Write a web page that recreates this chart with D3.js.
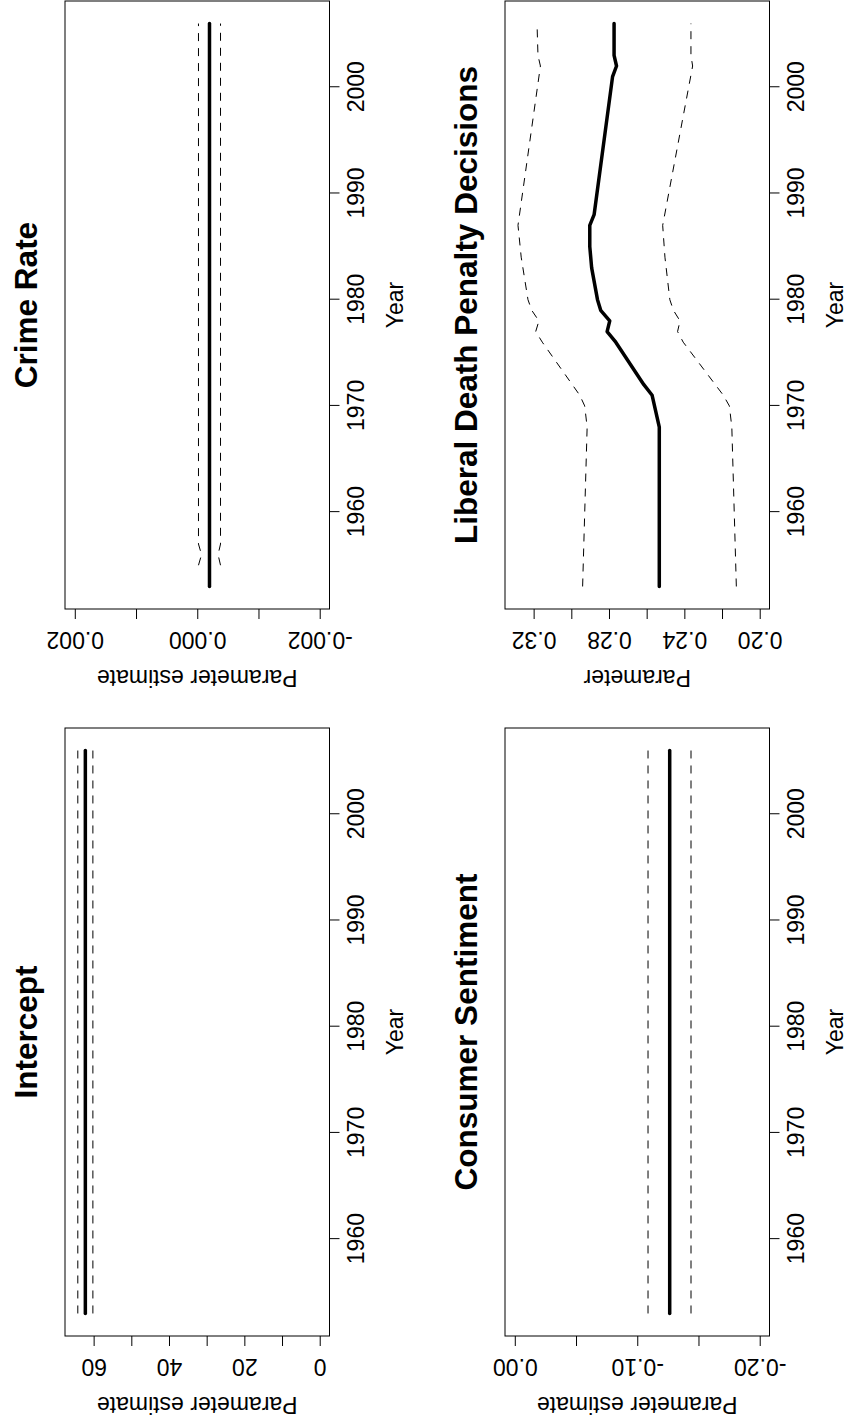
<!DOCTYPE html>
<html>
<head>
<meta charset="utf-8">
<script src="https://cdn.jsdelivr.net/npm/d3@7"></script>
<style>
  body { margin: 0; background: #fff; }
  svg { display: block; }
  text { font-family: "Liberation Sans", Arial, Helvetica, sans-serif; fill: #000; }
</style>
</head>
<body>
<svg id="chart" width="848" height="1425"></svg>
<script>
// ---------------- DATA ----------------
const panelTitles = ["Intercept", "Crime Rate", "Consumer Sentiment", "Liberal Death Penalty Decisions"];
const yAxisTitles = ["Parameter estimate", "Parameter estimate", "Parameter estimate", "Parameter"];
const xAxisTitle = "Year";
const yearTicks = [1960, 1970, 1980, 1990, 2000];
const yearRange = [1953, 2006];

// Intercept
const interceptYears = [1953, 2006];
const interceptEst = [62.2, 62.2];
const interceptUpper = [64.2, 64.2];
const interceptLower = [60.2, 60.2];
const interceptLim = [0, 65];
const interceptTicks = [0, 10, 20, 30, 40, 50, 60];
const interceptTickLabels = ["0", "", "20", "", "40", "", "60"];

// Crime Rate
const crimeYears = [1953, 2006];
const crimeEst = [-0.0002, -0.0002];
const crimeCIYears = [1955, 1956, 1957, 2006];
const crimeUpper = [-0.00002, -0.00007, -0.00002, -0.00002];
const crimeLower = [-0.00038, -0.00034, -0.00038, -0.00038];
const crimeLim = [-0.002, 0.002];
const crimeTicks = [-0.002, -0.001, 0, 0.001, 0.002];
const crimeTickLabels = ["-0.002", "", "0.000", "", "0.002"];

// Consumer Sentiment
const sentYears = [1953, 2006];
const sentEst = [-0.1265, -0.1265];
const sentUpper = [-0.1088, -0.1088];
const sentLower = [-0.1439, -0.1439];
const sentLim = [-0.2, 0];
const sentTicks = [-0.20, -0.15, -0.10, -0.05, 0.00];
const sentTickLabels = ["-0.20", "", "-0.10", "", "0.00"];

// Liberal Death Penalty Decisions
const ldpYears = [1953, 1968, 1971, 1972, 1976, 1977, 1978, 1979, 1980, 1983, 1985, 1987, 1988, 2001, 2002, 2003, 2006];
const ldpEst   = [0.2533, 0.2533, 0.2571, 0.2615, 0.2764, 0.2810, 0.2796, 0.2844, 0.2861, 0.2892, 0.2902, 0.2902, 0.2879, 0.2781, 0.2760, 0.2773, 0.2773];
const ldpCIYears = [1953, 1968, 1970, 1971, 1976, 1977, 1978, 1979, 1980, 1984, 1987, 2002, 2003, 2006];
const ldpUpper = [0.2940, 0.2916, 0.2929, 0.2955, 0.3154, 0.3189, 0.3172, 0.3210, 0.3230, 0.3266, 0.3283, 0.3164, 0.3177, 0.3182];
const ldpLower = [0.2124, 0.2148, 0.2161, 0.2193, 0.2406, 0.2436, 0.2423, 0.2458, 0.2477, 0.2503, 0.2515, 0.2356, 0.2365, 0.2365];
const ldpLim = [0.20, 0.33];
const ldpTicks = [0.20, 0.22, 0.24, 0.26, 0.28, 0.30, 0.32];
const ldpTickLabels = ["0.20", "", "0.24", "", "0.28", "", "0.32"];

// ---------------- BUILD ----------------
const zip = (a, b) => a.map((v, i) => [v, b[i]]);

const panels = [
  { title: panelTitles[0], ylab: yAxisTitles[0], lim: interceptLim, ticks: interceptTicks, tickLabels: interceptTickLabels,
    est: zip(interceptYears, interceptEst), upper: zip(interceptYears, interceptUpper), lower: zip(interceptYears, interceptLower) },
  { title: panelTitles[1], ylab: yAxisTitles[1], lim: crimeLim, ticks: crimeTicks, tickLabels: crimeTickLabels,
    est: zip(crimeYears, crimeEst), upper: zip(crimeCIYears, crimeUpper), lower: zip(crimeCIYears, crimeLower) },
  { title: panelTitles[2], ylab: yAxisTitles[2], lim: sentLim, ticks: sentTicks, tickLabels: sentTickLabels,
    est: zip(sentYears, sentEst), upper: zip(sentYears, sentUpper), lower: zip(sentYears, sentLower) },
  { title: panelTitles[3], ylab: yAxisTitles[3], lim: ldpLim, ticks: ldpTicks, tickLabels: ldpTickLabels,
    est: zip(ldpYears, ldpEst), upper: zip(ldpCIYears, ldpUpper), lower: zip(ldpCIYears, ldpLower) }
];

// layout (page drawn landscape, then rotated 90° counter-clockwise)
const PAGE = 1425;
const layout = [
  { x0: 89,  y0: 65 },
  { x0: 816, y0: 65 },
  { x0: 89,  y0: 505 },
  { x0: 816, y0: 505 }
];
const plotW = 608, plotH = 264.5;
const axisFont = 23, titleFont = 31.5;

const pad = ([a, b]) => { const d = (b - a) * 0.04; return [a - d, b + d]; };

const svg = d3.select("#chart");
svg.append("rect").attr("width", 848).attr("height", 1425).attr("fill", "#fff");
const root = svg.append("g").attr("transform", `translate(0,${PAGE}) rotate(-90)`);

panels.forEach((p, i) => {
  const L = layout[i];
  const g = root.append("g").attr("transform", `translate(${L.x0},${L.y0})`);
  const x = d3.scaleLinear().domain(pad(yearRange)).range([0, plotW]);
  const y = d3.scaleLinear().domain(pad(p.lim)).range([plotH, 0]);

  // x axis
  const xa = g.append("g").attr("transform", `translate(0,${plotH})`)
    .call(d3.axisBottom(x).tickValues(yearTicks).tickSize(10).tickPadding(8.5).tickFormat(d3.format("d")));
  xa.select(".domain").remove();
  xa.attr("font-size", axisFont).attr("font-family", null);
  xa.selectAll(".tick line").attr("stroke", "#000");
  xa.selectAll(".tick text").attr("fill", "#000");

  // y axis
  const labelMap = new Map(p.ticks.map((t, k) => [t, p.tickLabels[k]]));
  const ya = g.append("g")
    .call(d3.axisLeft(y).tickValues(p.ticks).tickSize(10).tickFormat(d => labelMap.get(d)));
  ya.select(".domain").remove();
  ya.attr("font-size", axisFont).attr("font-family", null);
  ya.selectAll(".tick line").attr("stroke", "#000");
  ya.selectAll(".tick text")
    .attr("fill", "#000")
    .attr("transform", "rotate(-90)")
    .attr("x", 0).attr("y", -23).attr("dy", null)
    .attr("text-anchor", "middle");

  // box
  g.append("rect").attr("x", 0).attr("y", 0).attr("width", plotW).attr("height", plotH)
    .attr("fill", "none").attr("stroke", "#000").attr("stroke-width", 1);

  // lines
  const line = d3.line().x(d => x(d[0])).y(d => y(d[1]));
  [p.upper, p.lower].forEach(s => {
    g.append("path").datum(s).attr("d", line)
      .attr("fill", "none").attr("stroke", "#000").attr("stroke-width", 1)
      .attr("stroke-dasharray", "8,7");
  });
  g.append("path").datum(p.est).attr("d", line)
    .attr("fill", "none").attr("stroke", "#000").attr("stroke-width", 3.5)
    .attr("stroke-linecap", "round").attr("stroke-linejoin", "round");

  // titles
  g.append("text").attr("x", plotW / 2).attr("y", -28)
    .attr("text-anchor", "middle").attr("font-weight", "bold").attr("font-size", titleFont)
    .text(p.title);
  g.append("text").attr("x", plotW / 2).attr("y", plotH + 73.5)
    .attr("text-anchor", "middle").attr("font-size", axisFont)
    .text(xAxisTitle);
  g.append("text").attr("transform", `translate(-61,${plotH / 2}) rotate(-90)`)
    .attr("text-anchor", "middle").attr("font-size", axisFont)
    .text(p.ylab);
});
</script>
</body>
</html>
